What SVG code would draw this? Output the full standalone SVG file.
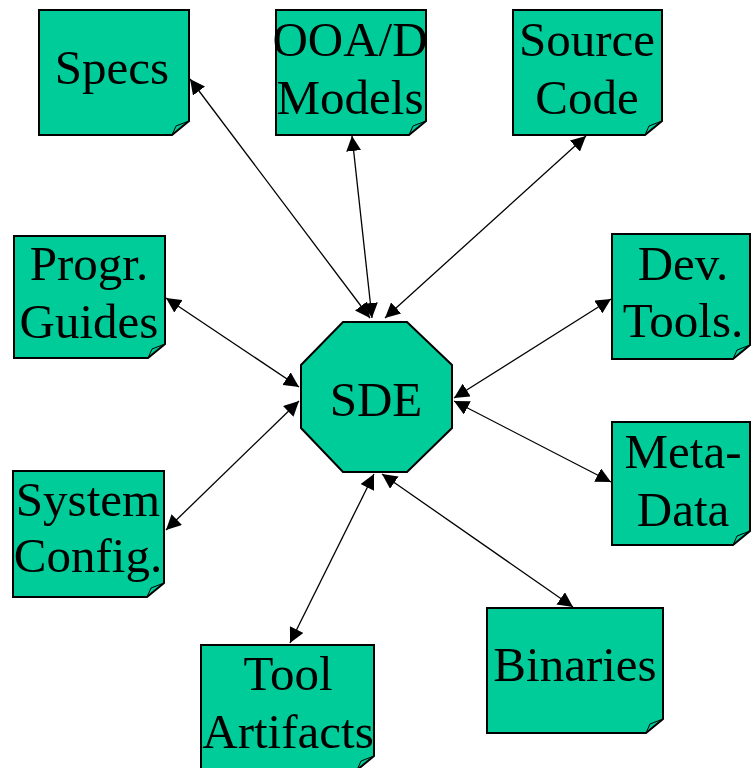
<svg xmlns="http://www.w3.org/2000/svg" width="753" height="768" viewBox="0 0 753 768">
<defs>
<marker id="ah" viewBox="0 0 10 10" refX="10" refY="5" markerWidth="15" markerHeight="15" markerUnits="userSpaceOnUse" orient="auto-start-reverse">
<path d="M0,0 L10,5 L0,10 Z" fill="#000"/>
</marker>
</defs>
<style>
.n{fill:#00CC99;stroke:#000;stroke-width:2}
.curl{fill:none;stroke:#000;stroke-width:1}
.t{font-family:"Liberation Serif","Times New Roman",serif;font-size:49px;fill:#000;text-anchor:middle}
.c line{stroke:#000;stroke-width:1.3;marker-start:url(#ah);marker-end:url(#ah)}
</style>
<rect width="753" height="768" fill="#fff"/>
<g class="c" id="connectors">
<line x1="370" y1="318" x2="190" y2="79"/>
<line x1="372" y1="318" x2="352" y2="136"/>
<line x1="385" y1="318" x2="586" y2="136"/>
<line x1="299" y1="387" x2="166" y2="298"/>
<line x1="454" y1="398" x2="611" y2="299"/>
<line x1="454" y1="401" x2="611" y2="482"/>
<line x1="299" y1="401" x2="166" y2="530"/>
<line x1="374" y1="474" x2="290" y2="643"/>
<line x1="382" y1="474" x2="573" y2="607"/>
</g>
<g id="sde">
<polygon class="n" points="343,322 407,322 452,365 452,428 407,472 343,472 301,428 301,365"/>
<text class="t" x="376" y="416">SDE</text>
</g>
<g id="specs">
<path class="n" d="M39,10 H189 V121 L172,135 H39 Z"/>
<path class="curl" d="M172,135 L176,126 L189,121"/>
<text class="t" x="112" y="84">Specs</text>
</g>
<g id="ooad">
<path class="n" d="M276,10 H426 V121 L409,135 H276 Z"/>
<path class="curl" d="M409,135 L413,126 L426,121"/>
<text class="t" x="350" y="56">OOA/D</text>
<text class="t" x="350" y="114">Models</text>
</g>
<g id="source">
<path class="n" d="M513,10 H662 V121 L645,135 H513 Z"/>
<path class="curl" d="M645,135 L649,126 L662,121"/>
<text class="t" x="587" y="56">Source</text>
<text class="t" x="587" y="114">Code</text>
</g>
<g id="progr">
<path class="n" d="M14,236 H165 V344 L148,358 H14 Z"/>
<path class="curl" d="M148,358 L152,349 L165,344"/>
<text class="t" x="89" y="280">Progr.</text>
<text class="t" x="89" y="338">Guides</text>
</g>
<g id="devtools">
<path class="n" d="M612,234 H750 V345 L733,359 H612 Z"/>
<path class="curl" d="M733,359 L737,350 L750,345"/>
<text class="t" x="683" y="280">Dev.</text>
<text class="t" x="683" y="337">Tools.</text>
</g>
<g id="metadata">
<path class="n" d="M612,422 H750 V531 L733,545 H612 Z"/>
<path class="curl" d="M733,545 L737,536 L750,531"/>
<text class="t" x="683" y="468">Meta-</text>
<text class="t" x="683" y="526">Data</text>
</g>
<g id="sysconfig">
<path class="n" d="M13,471 H164 V583 L147,597 H13 Z"/>
<path class="curl" d="M147,597 L151,588 L164,583"/>
<text class="t" x="88" y="516">System</text>
<text class="t" x="88" y="572">Config.</text>
</g>
<g id="toolartifacts">
<path class="n" d="M201,645 H374 V756 L357,770 H201 Z"/>
<path class="curl" d="M357,770 L361,761 L374,756"/>
<text class="t" x="288" y="690">Tool</text>
<text class="t" x="288" y="748">Artifacts</text>
</g>
<g id="binaries">
<path class="n" d="M487,608 H663 V719 L646,733 H487 Z"/>
<path class="curl" d="M646,733 L650,724 L663,719"/>
<text class="t" x="575" y="681">Binaries</text>
</g>
</svg>
